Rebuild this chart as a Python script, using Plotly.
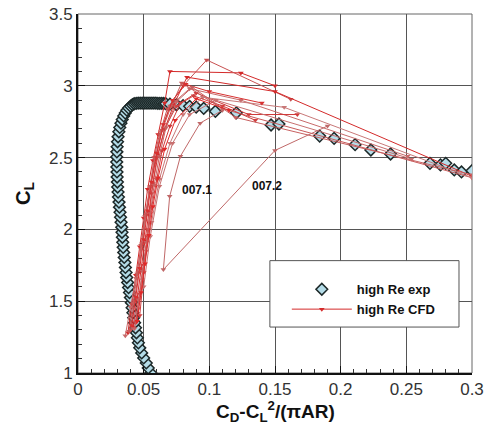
import plotly.graph_objects as go

# ---- experimental data (high Re exp) ----
exp_x = [0.0555, 0.0535, 0.0520, 0.0500, 0.0485, 0.0470, 0.0460,
         0.0452, 0.0445, 0.0438, 0.0431, 0.0424, 0.0418, 0.0412, 0.0406, 0.0399, 0.0392, 0.0385, 0.0378, 0.0371,
         0.0366, 0.0361, 0.0357, 0.0352, 0.0348, 0.0344, 0.0341, 0.0338, 0.0335, 0.0333,
         0.0328, 0.0324, 0.0320, 0.0316, 0.0312, 0.0308, 0.0305, 0.0302,
         0.0300, 0.0298, 0.0297, 0.0296, 0.0295, 0.0295, 0.0296,
         0.0298, 0.0301, 0.0305, 0.0311, 0.0318,
         0.0327, 0.0337, 0.0348, 0.0360, 0.0372, 0.0386, 0.0400, 0.0414, 0.0428, 0.0443,
         0.0458, 0.0473, 0.0488, 0.0503, 0.0518, 0.0533, 0.0548, 0.0563, 0.0578, 0.0593, 0.0608, 0.0623, 0.0638,
         0.0653, 0.0668,
         0.0700, 0.0750, 0.0800, 0.0850, 0.0900, 0.0957, 0.1046, 0.1206,
         0.147, 0.153, 0.184, 0.195, 0.211, 0.223, 0.238, 0.268, 0.276, 0.280, 0.2865, 0.292, 0.300]
exp_y = [1.000, 1.035, 1.070, 1.105, 1.140, 1.175, 1.210,
         1.245, 1.280, 1.315, 1.350, 1.385, 1.420, 1.455, 1.490, 1.525, 1.560, 1.595, 1.630, 1.665,
         1.700, 1.735, 1.770, 1.805, 1.840, 1.875, 1.910, 1.945, 1.980, 2.015,
         2.050, 2.085, 2.120, 2.155, 2.190, 2.225, 2.260, 2.295,
         2.330, 2.365, 2.400, 2.435, 2.470, 2.505, 2.540,
         2.575, 2.610, 2.645, 2.680, 2.710,
         2.740, 2.765, 2.790, 2.810, 2.830, 2.845, 2.858, 2.868, 2.875, 2.878,
         2.879, 2.879, 2.879, 2.879, 2.879, 2.879, 2.879, 2.879, 2.879, 2.879, 2.878, 2.878, 2.878,
         2.877, 2.876,
         2.872, 2.868, 2.862, 2.857, 2.852, 2.843, 2.822, 2.812,
         2.727, 2.734, 2.650, 2.634, 2.590, 2.553, 2.525, 2.460, 2.449, 2.460, 2.414, 2.400, 2.409]

# ---- CFD runs (high Re CFD) ----
cfd_runs_x = [
    [0.038, 0.041, 0.044, 0.047, 0.050, 0.053, 0.057, 0.061, 0.066, 0.070, 0.124, 0.150],
    [0.040, 0.043, 0.046, 0.049, 0.052, 0.055, 0.058, 0.062, 0.068, 0.080, 0.098, 0.162],
    [0.042, 0.045, 0.048, 0.051, 0.054, 0.057, 0.061, 0.066, 0.073, 0.083, 0.150, 0.300],
    [0.036, 0.040, 0.044, 0.048, 0.051, 0.054, 0.058, 0.063, 0.070, 0.085, 0.124, 0.251],
    [0.044, 0.047, 0.050, 0.053, 0.056, 0.060, 0.064, 0.070, 0.078, 0.090, 0.130, 0.167],
    [0.039, 0.042, 0.045, 0.048, 0.051, 0.055, 0.059, 0.064, 0.071, 0.079, 0.110, 0.300],
    [0.046, 0.049, 0.052, 0.056, 0.062, 0.070, 0.080, 0.095, 0.157, 0.300],
    [0.050, 0.055, 0.062, 0.072, 0.085, 0.105, 0.254],
    [0.047, 0.050, 0.053, 0.056, 0.060, 0.066, 0.075, 0.088, 0.110, 0.135],
    [0.041, 0.044, 0.047, 0.050, 0.053, 0.056, 0.060, 0.065, 0.072, 0.082, 0.100, 0.140],
    [0.043, 0.046, 0.049, 0.052, 0.055, 0.058, 0.062, 0.067, 0.075, 0.087, 0.120, 0.300],
    [0.045, 0.048, 0.051, 0.054, 0.057, 0.061, 0.066, 0.074, 0.090, 0.115],
    [0.190, 0.150, 0.065, 0.0698, 0.078, 0.093, 0.110],
]
cfd_runs_y = [
    [1.28, 1.48, 1.68, 1.88, 2.08, 2.28, 2.48, 2.66, 2.88, 3.10, 3.09, 3.00],
    [1.30, 1.50, 1.70, 1.90, 2.10, 2.30, 2.50, 2.66, 2.84, 3.00, 3.18, 2.906],
    [1.32, 1.52, 1.72, 1.92, 2.12, 2.32, 2.52, 2.70, 2.87, 3.06, 2.96, 2.37],
    [1.26, 1.46, 1.66, 1.86, 2.06, 2.26, 2.46, 2.68, 2.86, 2.98, 2.90, 2.51],
    [1.35, 1.55, 1.75, 1.95, 2.15, 2.35, 2.55, 2.72, 2.88, 2.95, 2.80, 2.80],
    [1.29, 1.49, 1.69, 1.89, 2.09, 2.29, 2.49, 2.69, 2.86, 3.02, 2.84, 2.36],
    [1.45, 1.65, 1.85, 2.05, 2.35, 2.60, 2.80, 2.92, 2.85, 2.36],
    [1.60, 1.95, 2.30, 2.60, 2.80, 2.90, 2.49],
    [1.40, 1.70, 2.00, 2.25, 2.50, 2.70, 2.86, 2.93, 2.86, 2.76],
    [1.33, 1.53, 1.73, 1.93, 2.13, 2.33, 2.53, 2.73, 2.90, 3.01, 2.96, 2.88],
    [1.31, 1.51, 1.71, 1.91, 2.11, 2.31, 2.51, 2.71, 2.89, 2.99, 2.78, 2.38],
    [1.36, 1.56, 1.76, 1.96, 2.16, 2.36, 2.56, 2.76, 2.91, 2.83],
    [2.72, 2.55, 1.72, 2.23, 2.51, 2.74, 2.83],
]
cfd_colors = ["#d42a2a", "#c85050", "#d42a2a", "#c86a6a", "#d03838",
              "#c85a5a", "#c87878", "#c87070", "#d04040", "#d83030",
              "#c86060", "#e02828", "#c06868"]

# ---- labels ----
label_text = ["007.1", "007.2"]
label_x = [0.0906, 0.144]
label_y = [2.274, 2.300]

x_ticks = [0, 0.05, 0.1, 0.15, 0.2, 0.25, 0.3]
x_ticktext = ["0", "0.05", "0.1", "0.15", "0.2", "0.25", "0.3"]
y_ticks = [1, 1.5, 2, 2.5, 3, 3.5]
y_ticktext = ["1", "1.5", "2", "2.5", "3", "3.5"]

FONT = "Liberation Sans, Arial, Helvetica, sans-serif"

fig = go.Figure()

fig.add_trace(go.Scatter(
    x=exp_x, y=exp_y, mode="markers", name="<b>high Re exp</b>",
    marker=dict(symbol="diamond", size=9, color="#b4dce8",
                line=dict(color="#1c2828", width=1.5)),
    legendrank=1,
))

for i, (xs, ys) in enumerate(zip(cfd_runs_x, cfd_runs_y)):
    fig.add_trace(go.Scatter(
        x=xs, y=ys, mode="lines+markers",
        line=dict(color=cfd_colors[i], width=1),
        marker=dict(symbol="triangle-down", size=5, color=cfd_colors[i]),
        name="<b>high Re CFD</b>", legendgroup="cfd", showlegend=(i == 0),
        legendrank=2,
    ))

for t, xx, yy in zip(label_text, label_x, label_y):
    fig.add_annotation(x=xx, y=yy, text="<b>%s</b>" % t, showarrow=False,
                       font=dict(family=FONT, size=12, color="#111"))

# x-axis title placed as annotation for exact vertical position
fig.add_annotation(xref="paper", yref="paper", x=0.5, y=-0.107, yanchor="middle",
                   text="<b>C<sub>D</sub>-C<sub>L</sub><sup>2</sup>/(πAR)</b>", showarrow=False,
                   font=dict(family=FONT, size=19, color="#111"))

# plot frame (top/right) and legend box
fig.add_shape(type="rect", xref="paper", yref="paper", x0=0, x1=1, y0=0, y1=1,
              line=dict(color="#666", width=1), layer="below")
fig.add_shape(type="rect", xref="paper", yref="paper", x0=0.487, x1=0.967, y0=0.128, y1=0.313,
              line=dict(color="#555", width=1), fillcolor="white", layer="above")

fig.update_layout(
    width=492, height=425,
    margin=dict(l=78, r=20, t=14, b=52),
    plot_bgcolor="white", paper_bgcolor="white",
    font=dict(family=FONT, color="#222"),
    showlegend=True,
    legend=dict(x=0.53, y=0.275, xanchor="left", yanchor="top",
                bgcolor="rgba(0,0,0,0)", borderwidth=0, traceorder="normal",
                font=dict(family=FONT, size=13, color="#111"),
                tracegroupgap=0, itemwidth=60),
    xaxis=dict(range=[0, 0.3], tickvals=x_ticks, ticktext=x_ticktext,
               showgrid=True, gridcolor="#555", gridwidth=1, automargin=False,
               showline=True, linecolor="#111", linewidth=2,
               ticks="inside", ticklen=7, tickcolor="#111", tickwidth=1,
               minor=dict(dtick=0.01, ticks="inside", ticklen=4, tickcolor="#333", showgrid=False),
               tickfont=dict(family=FONT, size=17, color="#333"),
               zeroline=False),
    yaxis=dict(range=[1, 3.5], tickvals=y_ticks, ticktext=y_ticktext,
               showgrid=True, gridcolor="#555", gridwidth=1, automargin=False,
               showline=True, linecolor="#111", linewidth=2,
               ticks="inside", ticklen=7, tickcolor="#111", tickwidth=1,
               minor=dict(dtick=0.1, ticks="inside", ticklen=4, tickcolor="#333", showgrid=False),
               tickfont=dict(family=FONT, size=17, color="#333"),
               zeroline=False,
               title=dict(text="<b>C<sub>L</sub></b>",
                          font=dict(family=FONT, size=20, color="#111"), standoff=13)),
)

fig.write_html("out.html")
